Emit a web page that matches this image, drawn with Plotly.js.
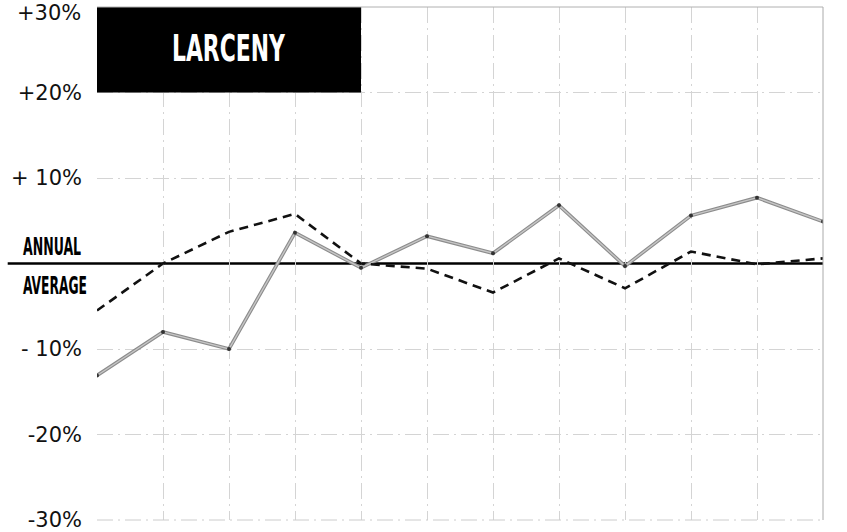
<!DOCTYPE html>
<html>
<head>
<meta charset="utf-8">
<script src="https://cdn.plot.ly/plotly-3.0.1.min.js"></script>
<style>html,body{margin:0;padding:0;background:#fff;}#chart{width:847px;height:532px;}</style>
</head>
<body>
<div id="chart"></div>
<script>
// Months (12 monthly observations)
const months = ["Jan","Feb","Mar","Apr","May","Jun","Jul","Aug","Sep","Oct","Nov","Dec"];
// Solid grey series: % deviation from annual average
const solidSeries = [-13.1, -8.0, -10.0, 3.6, -0.5, 3.2, 1.2, 6.8, -0.3, 5.6, 7.7, 4.9];
// Dashed black series: % deviation from annual average
const dashedSeries = [-5.5, 0.0, 3.7, 5.8, 0.0, -0.6, -3.4, 0.6, -2.9, 1.4, -0.1, 0.6];
// Y tick values and labels (top label drawn separately so it is not clipped)
const yTickVals = [-30, -20, -10, 10, 20, 30];
const yTickText = ["-30%", "-20%", "- 10%", "+ 10%", "+20%", ""];
const topTickText = "+30%";
const chartTitle = "LARCENY";
const zeroLabelTop = "ANNUAL";
const zeroLabelBottom = "AVERAGE";

const xIdx = months.map((m, i) => i);
const condensed = "Liberation Sans Narrow, DejaVu Sans Condensed, Arial Narrow, sans-serif";
const tickFont = {family: "DejaVu Sans, sans-serif", size: 21, color: "#111"};

const traces = [
  {x: xIdx, y: solidSeries, mode: "lines", line: {color: "#8c8c8c", width: 3.6}, hoverinfo: "skip", showlegend: false},
  {x: xIdx, y: solidSeries, mode: "lines+markers", line: {color: "#c6c6c6", width: 1.4},
   marker: {size: 4, color: "#333"}, showlegend: false},
  {x: xIdx, y: dashedSeries, mode: "lines", line: {color: "#111", width: 2.6, dash: "9px,6px"}, showlegend: false}
];

const gridDash = "16px,5px,2px,5px";
const layout = {
  width: 847, height: 532,
  margin: {l: 97, r: 24, t: 7, b: 12},
  paper_bgcolor: "#fff", plot_bgcolor: "#fff",
  showlegend: false,
  xaxis: {
    range: [0, 11], tickmode: "array", tickvals: xIdx, showticklabels: false,
    showgrid: true, gridcolor: "#d4d4d4", gridwidth: 1, griddash: gridDash,
    zeroline: false, showline: false, ticks: ""
  },
  yaxis: {
    range: [-30, 30], tickmode: "array", tickvals: yTickVals, ticktext: yTickText,
    showgrid: true, gridcolor: "#d4d4d4", gridwidth: 1, griddash: gridDash,
    zeroline: false, showline: false, ticks: "", ticklabelstandoff: 14,
    ticklabeloverflow: "allow",
    tickfont: tickFont
  },
  shapes: [
    {type: "rect", xref: "x", yref: "y", x0: 0, x1: 4, y0: 20, y1: 30, fillcolor: "#000", line: {width: 0}, layer: "above"},
    {type: "line", xref: "paper", yref: "y", x0: -0.123, x1: 1, y0: 0, y1: 0, line: {color: "#000", width: 2.5}, layer: "below"},
    {type: "line", xref: "paper", yref: "paper", x0: 1, x1: 1, y0: 0, y1: 1, line: {color: "#aaa", width: 1}},
    {type: "line", xref: "paper", yref: "paper", x0: 0, x1: 1, y0: 1, y1: 1, line: {color: "#b0b0b0", width: 1}},
    {type: "line", xref: "paper", yref: "paper", x0: 0, x1: 1, y0: 0, y1: 0, line: {color: "#cccccc", width: 1, dash: gridDash}}
  ],
  annotations: [
    {xref: "x", yref: "y", x: 2, y: 25, yshift: 2, text: chartTitle, showarrow: false,
     font: {family: condensed, size: 38, color: "#fff", weight: "bold"}},
    {xref: "paper", yref: "y", x: -0.105, y: 0, yshift: 17, xanchor: "left", text: zeroLabelTop, showarrow: false,
     font: {family: condensed, size: 24, color: "#000", weight: "bold"}},
    {xref: "paper", yref: "y", x: -0.105, y: 0, yshift: -22, xanchor: "left", text: zeroLabelBottom, showarrow: false,
     font: {family: condensed, size: 24, color: "#000", weight: "bold"}},
    {xref: "paper", yref: "y", x: -0.0193, y: 30, yanchor: "top", yshift: 8, xanchor: "right", text: topTickText,
     showarrow: false, font: tickFont}
  ]
};

// Horizontal compression of the condensed display lettering (text stays real text)
const squeeze = [0.64, 0.58, 0.57, 1];
Plotly.newPlot("chart", traces, layout, {staticPlot: true, displayModeBar: false}).then(gd => {
  const texts = gd.querySelectorAll("text.annotation-text");
  texts.forEach((t, i) => {
    const s = squeeze[i] || 1;
    if (s === 1) return;
    const bb = t.getBBox();
    const anchorX = i === 0 ? bb.x + bb.width / 2 : bb.x;
    t.setAttribute("transform", `matrix(${s},0,0,1,${anchorX * (1 - s)},0)`);
  });
});
</script>
</body>
</html>
